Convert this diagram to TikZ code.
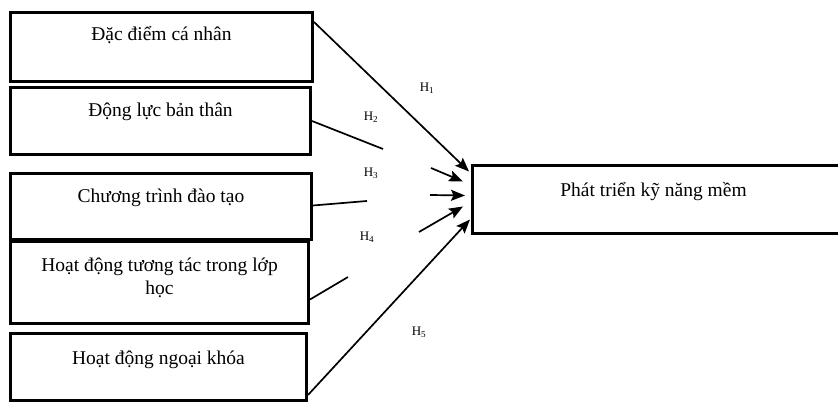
\documentclass[tikz,border=0pt]{standalone}
\usepackage{fontspec}
\setmainfont{Liberation Serif}
\usetikzlibrary{arrows.meta,calc}
\begin{document}
\begin{tikzpicture}[x=1pt,y=-1pt,
  box/.style={draw,line width=3pt,minimum width=#1,inner sep=0pt,anchor=north west},
  txt/.style={font=\fontsize{19.5}{23}\selectfont,align=center,inner sep=0pt},
  hl/.style={font=\fontsize{13}{14}\selectfont,inner sep=0pt},
  conn/.style={line width=1.7pt},
  arr/.style={line width=1.7pt,-{Stealth[length=14pt,width=11pt,inset=2.5pt]}}]
\useasboundingbox (0,0) rectangle (838,403);
% boxes
\node[box=302pt,minimum height=69pt] (b1) at (9,11) {};
\node[box=300pt,minimum height=67pt] (b2) at (9,86) {};
\node[box=301pt,minimum height=66pt] (b3) at (9,172) {};
\node[box=298pt,minimum height=82pt] (b4) at (9,240) {};
\node[box=296pt,minimum height=67pt] (b5) at (9,332) {};
\node[box=372pt,minimum height=68pt] (t) at (471,164) {};
% texts
\node[txt] (l1) at ([yshift=12pt]b1.center) {Đặc điểm cá nhân};
\node[txt] (l2) at ([yshift=9pt]b2.center) {Động lực bản thân};
\node[txt] (l3) at ([yshift=9pt]b3.center) {Chương trình đào tạo};
\node[txt] (l4) at ([yshift=5pt]b4.center) {Hoạt động tương tác trong lớp\\học};
\node[txt] (l5) at ([yshift=7pt]b5.center) {Hoạt động ngoại khóa};
\node[txt] (lt) at ([yshift=8pt,xshift=-5pt]t.center) {Phát triển kỹ năng mềm};
% hypothesis labels
\node[hl] (h1) at (427,88) {H\textsubscript{1}};
\node[hl] (h2) at (371,117) {H\textsubscript{2}};
\node[hl] (h3) at (371,173) {H\textsubscript{3}};
\node[hl] (h4) at (367,237) {H\textsubscript{4}};
\node[hl] (h5) at (419,332) {H\textsubscript{5}};
% free ends
\coordinate (e2) at (383,149);
\coordinate (f2) at (431,168);
\coordinate (e3) at (367,201);
\coordinate (f3) at (430,195);
\coordinate (e4) at (348,277);
\coordinate (f4) at (419,232);
% connectors
\draw[arr] ($(b1.north east)+(0,11)$) -- ($(t.west)+(-2,-28)$);
\draw[conn] (b2.east) -- (e2);
\draw[arr] (f2) -- ($(t.west)+(-8,-18)$);
\draw[conn] ($(b3.east)+(0,-1)$) -- (e3);
\draw[arr] (f3) -- ($(t.west)+(-6,-4)$);
\draw[conn] ($(b4.east)+(0,17)$) -- (e4);
\draw[arr] (f4) -- ($(t.west)+(-8,7)$);
\draw[arr] ($(b5.east)+(0,28)$) -- ($(t.west)+(-1,20)$);
\end{tikzpicture}
\end{document}
